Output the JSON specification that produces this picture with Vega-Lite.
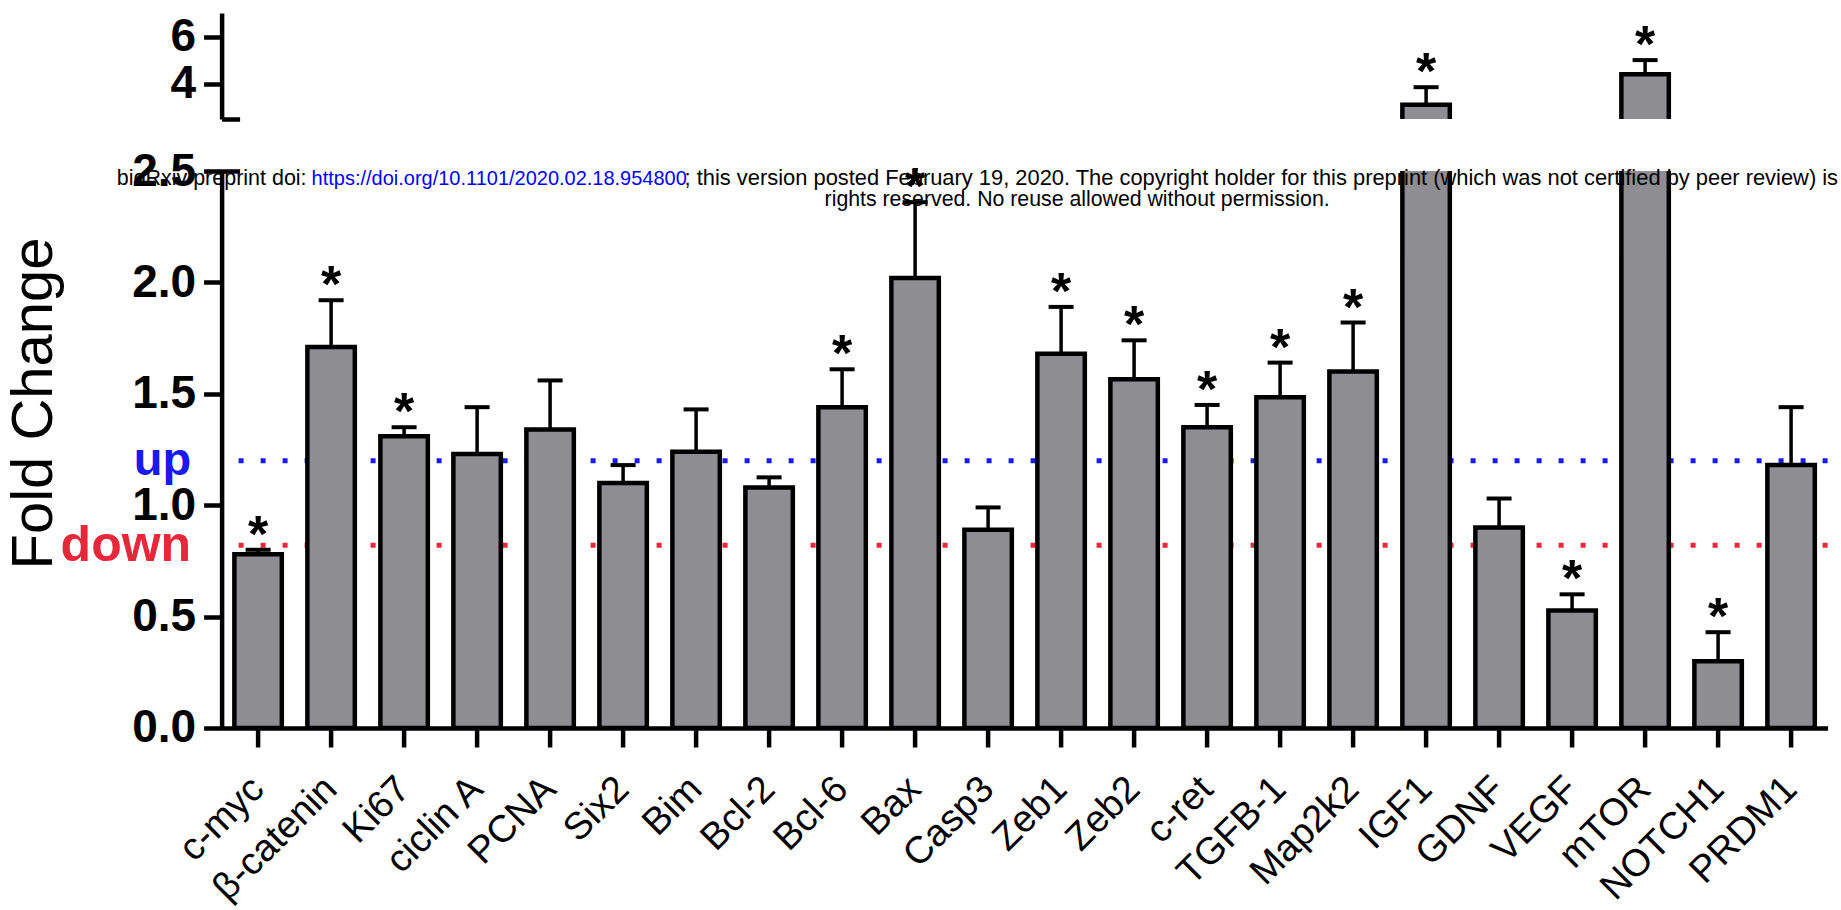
{
  "$schema": "https://vega.github.io/schema/vega-lite/v6.json",
  "padding": {"left": 4.6, "top": 13, "right": 0, "bottom": 0},
  "background": "white",
  "config": {"font": "Liberation Sans", "view": {"stroke": null}, "axis": {"grid": false}},
  "datasets": {
    "genes": [
      {"gene": "c-myc", "value": 0.78, "upper": 0.80, "sig": true},
      {"gene": "β-catenin", "value": 1.71, "upper": 1.92, "sig": true},
      {"gene": "Ki67", "value": 1.31, "upper": 1.35, "sig": true},
      {"gene": "ciclin A", "value": 1.23, "upper": 1.44, "sig": false},
      {"gene": "PCNA", "value": 1.34, "upper": 1.56, "sig": false},
      {"gene": "Six2", "value": 1.10, "upper": 1.18, "sig": false},
      {"gene": "Bim", "value": 1.24, "upper": 1.43, "sig": false},
      {"gene": "Bcl-2", "value": 1.08, "upper": 1.125, "sig": false},
      {"gene": "Bcl-6", "value": 1.44, "upper": 1.61, "sig": true},
      {"gene": "Bax", "value": 2.02, "upper": 2.36, "sig": true},
      {"gene": "Casp3", "value": 0.89, "upper": 0.99, "sig": false},
      {"gene": "Zeb1", "value": 1.68, "upper": 1.89, "sig": true},
      {"gene": "Zeb2", "value": 1.565, "upper": 1.74, "sig": true},
      {"gene": "c-ret", "value": 1.35, "upper": 1.45, "sig": true},
      {"gene": "TGFB-1", "value": 1.485, "upper": 1.64, "sig": true},
      {"gene": "Map2k2", "value": 1.60, "upper": 1.82, "sig": true},
      {"gene": "IGF1", "value": 3.1, "upper": 3.85, "sig": true},
      {"gene": "GDNF", "value": 0.90, "upper": 1.03, "sig": false},
      {"gene": "VEGF", "value": 0.527, "upper": 0.60, "sig": true},
      {"gene": "mTOR", "value": 4.4, "upper": 5.0, "sig": true},
      {"gene": "NOTCH1", "value": 0.30, "upper": 0.43, "sig": true},
      {"gene": "PRDM1", "value": 1.18, "upper": 1.44, "sig": false}
    ],
    "levels": [
      {"name": "up", "level": 1.2},
      {"name": "down", "level": 0.82}
    ]
  },
  "spacing": 52,
  "bounds": "flush",
  "vconcat": [
    {
      "width": 1606,
      "height": 106,
      "data": {"name": "genes"},
      "resolve": {"axis": {"x": "independent", "y": "independent"}},
      "layer": [
        {
          "mark": {"type": "bar", "clip": true, "fill": "#8d8d92", "stroke": "black", "strokeWidth": 4.5},
          "encoding": {
            "x": {"field": "gene", "type": "nominal", "sort": null, "scale": {"paddingInner": 0.35, "paddingOuter": 0.175}, "axis": null},
            "y": {"field": "value", "type": "quantitative", "scale": {"domain": [2.5, 7], "nice": false, "zero": false},
              "axis": {"orient": "left", "title": null, "values": [4, 6], "format": "d", "labelFontSize": 46, "labelFontWeight": "bold", "labelColor": "black",
                "tickSize": 18, "tickWidth": 4.5, "tickColor": "black", "domainColor": "black", "domainWidth": 4.5, "labelPadding": 8}},
            "y2": {"datum": 0}
          }
        },
        {
          "transform": [{"filter": "datum.value > 2.5"}],
          "mark": {"type": "rule", "strokeWidth": 3.5, "color": "black"},
          "encoding": {
            "x": {"field": "gene", "type": "nominal", "sort": null, "axis": null},
            "y": {"field": "value", "type": "quantitative",
              "axis": {"orient": "left", "values": [2.5], "labels": false, "domain": false, "title": null,
                "tickSize": -18, "tickWidth": 4.5, "tickColor": "black"}},
            "y2": {"field": "upper"}
          }
        },
        {
          "transform": [{"filter": "datum.value > 2.5"}],
          "mark": {"type": "tick", "size": 25, "thickness": 4, "color": "black", "opacity": 1},
          "encoding": {
            "x": {"field": "gene", "type": "nominal", "sort": null, "axis": null},
            "y": {"field": "upper", "type": "quantitative", "axis": null}
          }
        },
        {
          "transform": [{"filter": "datum.sig && datum.value > 2.5"}],
          "mark": {"type": "text", "text": "*", "fontSize": 52, "fontWeight": "bold", "baseline": "alphabetic", "dy": 2, "color": "black"},
          "encoding": {
            "x": {"field": "gene", "type": "nominal", "sort": null, "axis": null},
            "y": {"field": "upper", "type": "quantitative", "axis": null}
          }
        }
      ]
    },
    {
      "width": 1606,
      "height": 557,
      "resolve": {"axis": {"x": "independent", "y": "independent"}},
      "layer": [
        {
          "data": {"name": "levels"},
          "mark": {"type": "rule", "strokeDash": [5, 17], "strokeWidth": 5},
          "encoding": {
            "y": {"field": "level", "type": "quantitative", "scale": {"domain": [0, 2.5], "nice": false},
              "axis": {"orient": "left", "values": [0.82, 1.2], "labelExpr": "datum.value > 1 ? 'up' : 'down'",
                "labelColor": {"condition": {"test": "datum.value > 1", "value": "#1a1aee"}, "value": "#e8283a"},
                "labelFontSize": {"condition": {"test": "datum.value > 1", "value": 47}, "value": 50},
                "labelFontWeight": "bold", "domain": false, "ticks": false, "labelPadding": 31, "title": null}},
            "color": {"field": "name", "type": "nominal", "scale": {"domain": ["up", "down"], "range": ["#1a1aee", "#e8283a"]}, "legend": null}
          }
        },
        {
          "data": {"name": "genes"},
          "mark": {"type": "bar", "clip": true, "fill": "#8d8d92", "stroke": "black", "strokeWidth": 4.5},
          "encoding": {
            "x": {"field": "gene", "type": "nominal", "sort": null, "scale": {"paddingInner": 0.35, "paddingOuter": 0.175},
              "axis": {"orient": "bottom", "title": null, "labelAngle": -45, "labelFontSize": 38, "labelColor": "black", "tickSize": 19, "tickWidth": 4.5,
                "tickColor": "black", "domainColor": "black", "domainWidth": 4.5, "labelPadding": 36, "labelAlign": "right", "labelBaseline": "middle"}},
            "y": {"field": "value", "type": "quantitative", "scale": {"domain": [0, 2.5], "nice": false},
              "axis": {"orient": "left", "title": "Fold Change", "titleFontSize": 58, "titleFontWeight": "normal", "titleColor": "black",
                "titleX": -170.5, "titleY": 232, "titleBaseline": "alphabetic", "titleAngle": -90,
                "values": [0, 0.5, 1, 1.5, 2, 2.5], "format": ".1f", "labelFontSize": 46, "labelFontWeight": "bold", "labelColor": "black",
                "tickSize": 18, "tickWidth": 4.5, "tickColor": "black", "domainColor": "black", "domainWidth": 4.5, "labelPadding": 8}}
          }
        },
        {
          "data": {"name": "genes"},
          "transform": [{"filter": "datum.upper < 2.5"}],
          "mark": {"type": "rule", "strokeWidth": 3.5, "color": "black"},
          "encoding": {
            "x": {"field": "gene", "type": "nominal", "sort": null, "axis": null},
            "y": {"field": "value", "type": "quantitative",
              "axis": {"orient": "left", "values": [2.5], "labels": false, "domain": false, "title": null,
                "tickSize": -18, "tickWidth": 4.5, "tickColor": "black"}},
            "y2": {"field": "upper"}
          }
        },
        {
          "data": {"name": "genes"},
          "transform": [{"filter": "datum.upper < 2.5"}],
          "mark": {"type": "tick", "size": 25, "thickness": 4, "color": "black", "opacity": 1},
          "encoding": {
            "x": {"field": "gene", "type": "nominal", "sort": null, "axis": null},
            "y": {"field": "upper", "type": "quantitative", "axis": null}
          }
        },
        {
          "data": {"name": "genes"},
          "transform": [{"filter": "datum.sig && datum.upper < 2.5"}],
          "mark": {"type": "text", "text": "*", "fontSize": 52, "fontWeight": "bold", "baseline": "alphabetic", "dy": 2, "color": "black"},
          "encoding": {
            "x": {"field": "gene", "type": "nominal", "sort": null, "axis": null},
            "y": {"field": "upper", "type": "quantitative", "axis": null}
          }
        },
        {
          "data": {"values": [{"t": "bioRxiv preprint doi:"}]},
          "mark": {"type": "text", "align": "right", "baseline": "alphabetic", "dx": 48.5, "dy": 13.7, "fontSize": 21.5, "color": "black"},
          "encoding": {
            "x": {"datum": "c-myc", "type": "nominal", "axis": null},
            "y": {"datum": 2.5, "type": "quantitative", "axis": null},
            "text": {"field": "t"}
          }
        },
        {
          "data": {"values": [{"t": "https://doi.org/10.1101/2020.02.18.954800"}]},
          "mark": {"type": "text", "align": "left", "baseline": "alphabetic", "dx": 53.5, "dy": 13.7, "fontSize": 20, "color": "#0000ff"},
          "encoding": {
            "x": {"datum": "c-myc", "type": "nominal", "axis": null},
            "y": {"datum": 2.5, "type": "quantitative", "axis": null},
            "text": {"field": "t"}
          }
        },
        {
          "data": {"values": [{"t": "; this version posted February 19, 2020. The copyright holder for this preprint (which was not certified by peer review) is"}]},
          "mark": {"type": "text", "align": "left", "baseline": "alphabetic", "dx": 426.5, "dy": 13.7, "fontSize": 21.9, "color": "black"},
          "encoding": {
            "x": {"datum": "c-myc", "type": "nominal", "axis": null},
            "y": {"datum": 2.5, "type": "quantitative", "axis": null},
            "text": {"field": "t"}
          }
        },
        {
          "data": {"values": [{"t": "rights reserved. No reuse allowed without permission."}]},
          "mark": {"type": "text", "align": "center", "baseline": "alphabetic", "dx": 16, "dy": 35, "fontSize": 21.3, "color": "black"},
          "encoding": {
            "x": {"datum": "Zeb1", "type": "nominal", "axis": null},
            "y": {"datum": 2.5, "type": "quantitative", "axis": null},
            "text": {"field": "t"}
          }
        }
      ]
    }
  ]
}
